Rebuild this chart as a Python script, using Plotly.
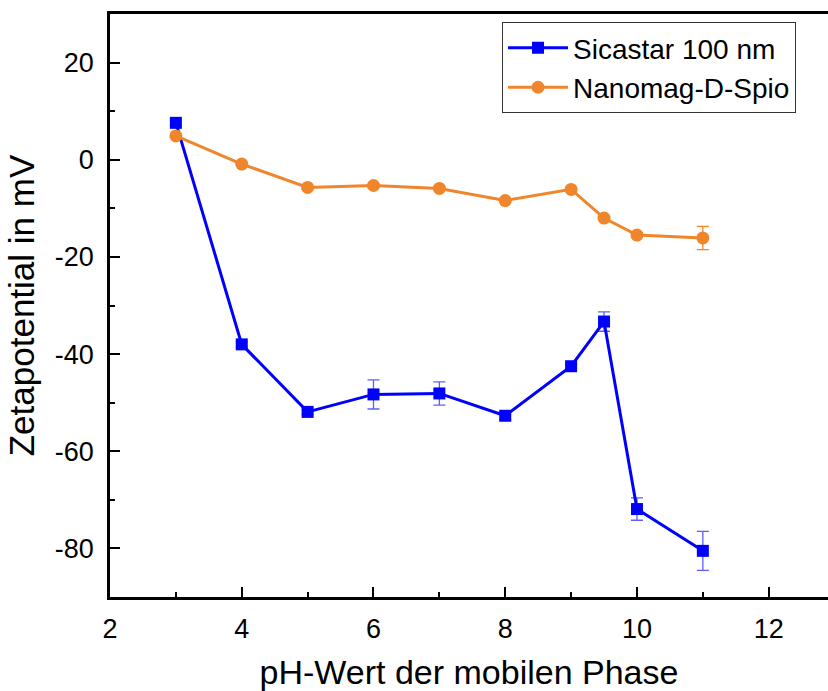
import plotly.graph_objects as go

ph = [3, 4, 5, 6, 7, 8, 9, 9.5, 10, 11]
sicastar = [7.6, -38.0, -51.9, -48.3, -48.1, -52.7, -42.5, -33.3, -71.9, -80.5]
sicastar_err = [0.4, 0.5, 0.5, 3.0, 2.4, 0.8, 0.5, 2.0, 2.3, 4.0]
nanomag = [4.9, -0.9, -5.7, -5.3, -5.9, -8.4, -6.1, -12.0, -15.5, -16.1]
nanomag_err = [0.3, 0.3, 0.3, 0.3, 0.3, 0.3, 0.3, 0.4, 0.5, 2.4]

x_ticks = [2, 4, 6, 8, 10, 12]
y_ticks = [-80, -60, -40, -20, 0, 20]
y_ticktext = ["-80", "-60", "-40", "-20", "0", "20"]

FONT = "Liberation Sans, Arial, sans-serif"

fig = go.Figure()
fig.add_trace(go.Scatter(
    x=ph, y=sicastar, name="Sicastar 100 nm", mode="lines+markers",
    line=dict(color="#0000ff", width=3),
    marker=dict(symbol="square", size=12, color="#0000ff"),
    error_y=dict(type="data", array=sicastar_err, visible=True,
                 color="rgba(40,40,255,0.75)", thickness=1.3, width=6),
))
fig.add_trace(go.Scatter(
    x=ph, y=nanomag, name="Nanomag-D-Spio", mode="lines+markers",
    line=dict(color="#f0862b", width=3),
    marker=dict(symbol="circle", size=13, color="#f0862b"),
    error_y=dict(type="data", array=nanomag_err, visible=True,
                 color="#f0862b", thickness=1.3, width=6),
))

fig.update_layout(
    width=828, height=691,
    margin=dict(l=110, r=0, t=14, b=94),
    paper_bgcolor="white", plot_bgcolor="white",
    font=dict(family=FONT, size=27, color="black"),
    showlegend=True,
    legend=dict(x=0.546, y=0.986, xanchor="left", yanchor="top",
                bgcolor="white", bordercolor="#333333", borderwidth=1,
                font=dict(family=FONT, size=28), tracegroupgap=0,
                itemwidth=60),
)
fig.update_xaxes(
    range=[2, 12.9], tickvals=x_ticks,
    showline=True, linecolor="black", linewidth=2.5, mirror=True,
    ticks="inside", ticklen=10, tickwidth=2, tickcolor="black",
    minor=dict(ticks="inside", ticklen=5, tickwidth=1.5, dtick=1, tickcolor="black", showgrid=False),
    showgrid=False, zeroline=False,
    tickfont=dict(size=27), ticklabelstandoff=6,
    title=dict(text="pH-Wert der mobilen Phase", font=dict(size=34), standoff=22),
)
fig.update_yaxes(
    range=[-90, 30], tickvals=y_ticks, ticktext=y_ticktext,
    showline=True, linecolor="black", linewidth=2.5, mirror=False,
    ticks="inside", ticklen=10, tickwidth=2, tickcolor="black",
    minor=dict(ticks="inside", ticklen=5, tickwidth=1.5, dtick=10, tickcolor="black", showgrid=False),
    showgrid=False, zeroline=False,
    tickfont=dict(size=27), ticklabelstandoff=8,
    title=dict(text="Zetapotential in mV", font=dict(size=35), standoff=10),
)

fig.write_html("out.html")
